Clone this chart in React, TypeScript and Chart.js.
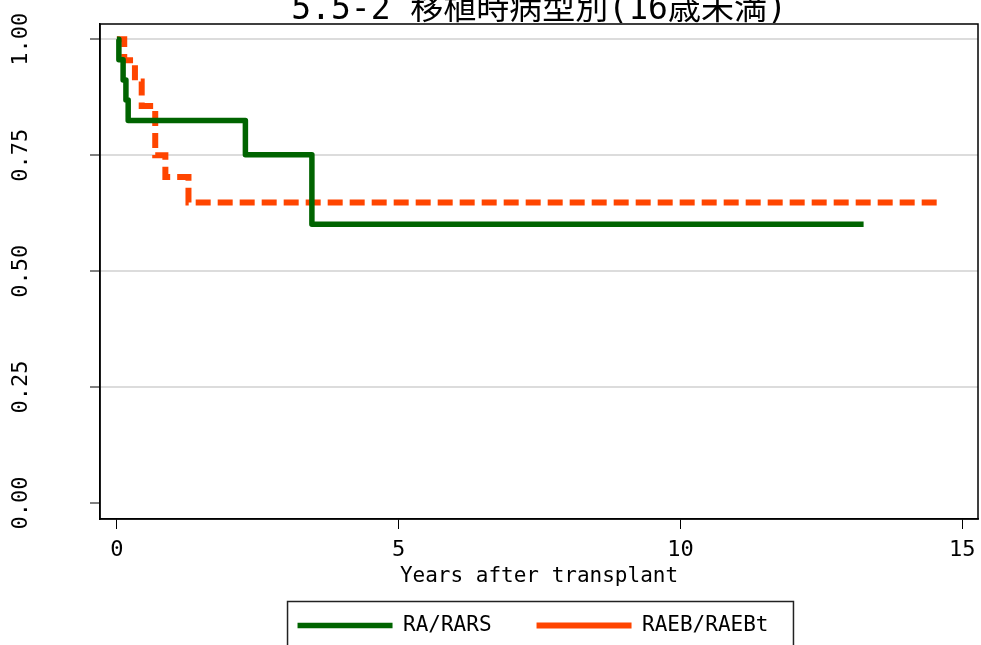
import React, { useEffect, useRef } from 'react';
import { Chart, registerables } from 'chart.js';

Chart.register(...registerables);

const titleText = '5.5-2 移植時病型別(16歳未満)';
const xAxisTitle = 'Years after transplant';
const seriesNames = ['RA/RARS', 'RAEB/RAEBt'];
const seriesColors = ['#006400', '#ff4500'];

const raTimes = [0, 0.035, 0.11, 0.16, 0.2, 2.28, 3.46, 13.25];
const raSurv = [1, 0.956, 0.912, 0.869, 0.825, 0.751, 0.601, 0.601];

const raebTimes = [0, 0.13, 0.32, 0.44, 0.68, 0.86, 1.27, 14.65];
const raebSurv = [1, 0.955, 0.909, 0.856, 0.75, 0.703, 0.648, 0.648];

const xTicks = [0, 5, 10, 15];
const yTicks = [0, 0.25, 0.5, 0.75, 1];

const MONO = "'DejaVu Sans Mono', 'Noto Sans CJK JP', monospace";
const LEGEND_SHIFT = 44;

const frameAndLegendBox = {
  id: 'frameAndLegendBox',
  afterLayout(chart: any) {
    const lg = chart.legend;
    if (lg) {
      lg.left += LEGEND_SHIFT;
      lg.right += LEGEND_SHIFT;
    }
  },
  afterDraw(chart: any) {
    const { ctx, chartArea } = chart;
    ctx.save();
    ctx.strokeStyle = '#000';
    ctx.lineWidth = 1.5;
    ctx.strokeRect(chartArea.left, chartArea.top, chartArea.right - chartArea.left, chartArea.bottom - chartArea.top);
    const hb = chart.legend && chart.legend.legendHitBoxes;
    if (hb && hb.length) {
      const first = hb[0];
      const last = hb[hb.length - 1];
      const left = first.left - 10;
      const right = last.left + last.width + 25;
      const top = first.top - 13.5;
      const bottom = first.top + first.height + 13.5;
      ctx.lineWidth = 1.5;
      ctx.strokeStyle = '#222';
      ctx.strokeRect(left, top, right - left, bottom - top);
    }
    ctx.restore();
  },
};

export default function App() {
  const canvasRef = useRef<HTMLCanvasElement | null>(null);

  useEffect(() => {
    if (!canvasRef.current) return;
    Chart.defaults.color = '#000';
    Chart.defaults.font.family = MONO;
    const chart = new Chart(canvasRef.current, {
      type: 'line',
      data: {
        datasets: [
          {
            label: seriesNames[0],
            data: raTimes.map((t, i) => ({ x: t, y: raSurv[i] })),
            borderColor: seriesColors[0],
            backgroundColor: seriesColors[0],
            borderWidth: 5.5,
            stepped: true,
            pointRadius: 0,
            borderJoinStyle: 'round',
            fill: false,
          },
          {
            label: seriesNames[1],
            data: raebTimes.map((t, i) => ({ x: t, y: raebSurv[i] })),
            borderColor: seriesColors[1],
            backgroundColor: seriesColors[1],
            borderWidth: 6,
            borderDash: [15, 7],
            stepped: true,
            pointRadius: 0,
            fill: false,
          },
        ],
      },
      options: {
        animation: false,
        responsive: false,
        events: [],
        layout: { padding: { left: 0, right: 3, top: 0, bottom: 0 } },
        plugins: {
          title: {
            display: true,
            fullSize: false,
            text: titleText,
            color: '#000',
            font: { family: MONO, size: 33, weight: 'normal' },
            padding: { top: -9.8, bottom: -5.8 },
          },
          legend: {
            display: true,
            position: 'bottom',
            labels: {
              usePointStyle: true,
              pointStyle: 'line',
              pointStyleWidth: 95,
              padding: 45,
              color: '#000',
              font: { family: MONO, size: 21 },
            },
          },
          tooltip: { enabled: false },
        },
        scales: {
          x: {
            type: 'linear',
            min: -0.3,
            max: 15.28,
            afterBuildTicks: (scale: any) => {
              scale.ticks = xTicks.map((v) => ({ value: v }));
            },
            afterFit: (scale: any) => {
              scale.height = 51;
              scale.paddingLeft = 0;
              scale.paddingRight = 0;
            },
            ticks: {
              padding: 8,
              maxRotation: 0,
              font: { family: MONO, size: 22 },
              color: '#000',
              callback: (v: any) => String(v),
            },
            grid: {
              drawOnChartArea: false,
              drawTicks: true,
              tickLength: 10,
              tickColor: '#000',
              tickWidth: 1,
            },
            border: { display: true, color: '#000', width: 1.5 },
            title: {
              display: true,
              text: xAxisTitle,
              color: '#000',
              font: { family: MONO, size: 21 },
              padding: { top: 0, bottom: -19 },
            },
          },
          y: {
            type: 'linear',
            min: -0.0345,
            max: 1.033,
            afterBuildTicks: (scale: any) => {
              scale.ticks = yTicks.map((v) => ({ value: v }));
            },
            afterFit: (scale: any) => {
              scale.width = 100;
              scale.paddingTop = 0;
              scale.paddingBottom = 0;
            },
            ticks: {
              minRotation: 90,
              maxRotation: 90,
              crossAlign: 'center',
              padding: 42.5,
              font: { family: MONO, size: 22 },
              color: '#000',
              callback: (v: any) => Number(v).toFixed(2),
            },
            grid: {
              color: (ctx: any) => (ctx.tick && ctx.tick.value === 0 ? 'rgba(0,0,0,0)' : '#dcdcdc'),
              lineWidth: 2,
              drawTicks: true,
              tickLength: 10,
              tickColor: '#000',
              tickWidth: 1,
            },
            border: { display: true, color: '#000', width: 1.5 },
          },
        },
      },
      plugins: [frameAndLegendBox],
    } as any);
    return () => chart.destroy();
  }, []);

  return (
    <div style={{ position: 'fixed', left: 0, top: 0, width: 981, height: 645, overflow: 'hidden', background: '#fff' }}>
      <canvas ref={canvasRef} width={981} height={646} style={{ display: 'block' }} />
    </div>
  );
}
